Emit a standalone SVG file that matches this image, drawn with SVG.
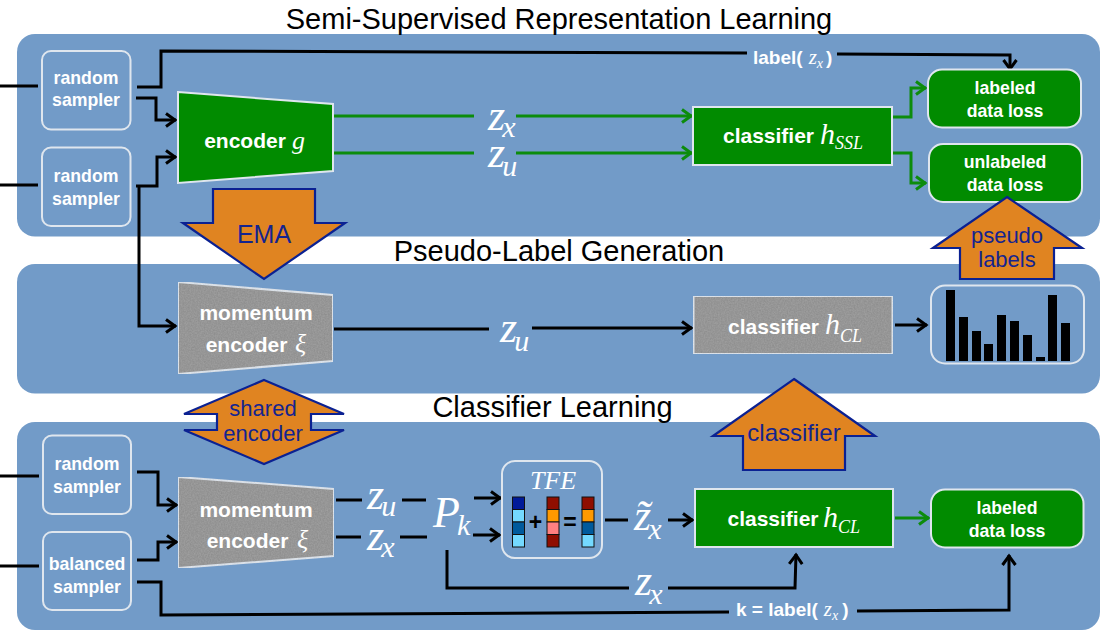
<svg xmlns="http://www.w3.org/2000/svg" width="1112" height="642" viewBox="0 0 1112 642">
<style>
.panel{fill:#729bc8}
.title{font:400 29px "Liberation Sans",Arial,sans-serif;fill:#000;text-anchor:middle}
.box{stroke:#dfe6ee;stroke-width:2}
.out{fill:none}
.green{fill:#018b00}
.gray{fill:#8e8e8e;filter:url(#grain)}
.lbl{font:700 17.700px "Liberation Sans",Arial,sans-serif;fill:#fff;text-anchor:middle}
.lbl2{font:700 21px "Liberation Sans",Arial,sans-serif;fill:#fff;text-anchor:middle}
.lbl3{font:700 19px "Liberation Sans",Arial,sans-serif;fill:#fff}
.m{font-family:"Liberation Serif","Times New Roman",serif;font-style:italic;font-weight:400;fill:#fff}
.mz{font:italic 400 44px "Liberation Serif","Times New Roman",serif;fill:#fff}
.sub{font-size:30px}
.bk{fill:none;stroke:#000;stroke-width:3;stroke-linejoin:miter}
.gr{fill:none;stroke:#0c8c0c;stroke-width:3}
.ar{marker-end:url(#ab)}
.ag{marker-end:url(#ag)}
.big{fill:#e08421;stroke:#0b2192;stroke-width:2.200}
.nv{font:400 22px "Liberation Sans",Arial,sans-serif;fill:#14248f;text-anchor:middle}
.cell{stroke:#111;stroke-width:1}
.op{font:700 23px "Liberation Sans",Arial,sans-serif;fill:#000;text-anchor:middle}
</style>
<defs>
<marker id="ab" markerUnits="userSpaceOnUse" markerWidth="16" markerHeight="18" refX="13" refY="9" orient="auto"><path d="M3 2.500L12 9L3 15.500" fill="none" stroke="#000" stroke-width="3"/></marker>
<marker id="ag" markerUnits="userSpaceOnUse" markerWidth="16" markerHeight="18" refX="13" refY="9" orient="auto"><path d="M3 2.500L12 9L3 15.500" fill="none" stroke="#0c8c0c" stroke-width="3"/></marker>
<filter id="grain" x="0" y="0" width="100%" height="100%"><feTurbulence type="fractalNoise" baseFrequency="0.7" numOctaves="2" seed="3" result="n"/><feColorMatrix in="n" type="matrix" values="0 0 0 0 0.5  0 0 0 0 0.5  0 0 0 0 0.5  0.5 0 0 0 -0.1" result="g"/><feComposite in="g" in2="SourceGraphic" operator="atop"/></filter>
</defs>
<rect width="1112" height="642" fill="#fff"/>
<g id="panels">
<rect class="panel" x="17" y="34" width="1083" height="202.500" rx="18"/>
<rect class="panel" x="17" y="264" width="1083" height="129.500" rx="18"/>
<rect class="panel" x="17" y="422" width="1083" height="208" rx="18"/>
</g>
<g id="titles">
<text class="title" x="559" y="29">Semi-Supervised Representation Learning</text>
<text class="title" x="559" y="261">Pseudo-Label Generation</text>
<text class="title" x="552.500" y="417">Classifier Learning</text>
</g>
<g id="connectors">
<path class="bk" d="M0 86H38M0 185H38M0 476H39M0 566H39"/>
<path class="bk" d="M137 87H161V51L747 53"/>
<path class="bk ar" d="M837 54L1010 55V70"/>
<path class="bk ar" d="M136 98H156V120H176"/>
<path class="bk ar" d="M136 186H157V157H176"/>
<path class="bk ar" d="M139 186V326H176"/>
<path class="gr" d="M334 116H474M334 153H474"/>
<path class="gr ag" d="M516 116H692"/>
<path class="gr ag" d="M516 153H692"/>
<path class="gr ag" d="M893 117H911V88H926"/>
<path class="gr ag" d="M893 153H911V183H926"/>
<path class="bk" d="M334 329H489"/>
<path class="bk ar" d="M532 328H692"/>
<path class="bk ar" d="M895 325H927"/>
<path class="bk ar" d="M137 472H158V505H177"/>
<path class="bk ar" d="M137 560H158V542H177"/>
<path class="bk" d="M137 582H161V615L729 612"/>
<path class="bk ar" d="M857 611L1009 610V555"/>
<path class="bk" d="M336 500H362M402 500H426M336 537H361M400 537H427"/>
<path class="bk ar" d="M474 498H501"/>
<path class="bk ar" d="M473 535H500"/>
<path class="bk" d="M605 520H628"/>
<path class="bk ar" d="M668 520H693"/>
<path class="gr ag" d="M895 518H929"/>
<path class="bk" d="M447 550V588H629"/>
<path class="bk ar" d="M668 588H795L796 554"/>
</g>
<g id="node-sampler-1"><rect class="box out" x="42" y="51" width="88.500" height="78.500" rx="9"/><text class="lbl" x="86" y="84">random</text><text class="lbl" x="86" y="106">sampler</text></g>
<g id="node-sampler-2"><rect class="box out" x="42" y="147.500" width="88.500" height="78.500" rx="9"/><text class="lbl" x="86" y="182">random</text><text class="lbl" x="86" y="205">sampler</text></g>
<g id="node-encoder-g"><path class="box green" d="M178 92L333 104V171L178 183Z"/><text class="lbl2" x="245" y="148">encoder</text><text class="m" x="292" y="149" font-size="26">g</text></g>
<g id="node-classifier-ssl"><rect class="box green" x="693" y="107" width="199" height="58"/><text class="lbl2" x="768.500" y="143">classifier</text><text class="m" x="820" y="144" font-size="30">h<tspan font-size="18" dy="5">SSL</tspan></text></g>
<g id="node-labeled-loss-1"><rect class="box green" x="928" y="69.500" width="153" height="58" rx="14"/><text class="lbl" x="1005" y="94">labeled</text><text class="lbl" x="1005" y="117">data loss</text></g>
<g id="node-unlabeled-loss"><rect class="box green" x="929" y="144" width="153" height="58" rx="14"/><text class="lbl" x="1005" y="168">unlabeled</text><text class="lbl" x="1005" y="191">data loss</text></g>
<g id="node-label-zx-top"><text class="lbl3" x="753" y="64">label(<tspan class="m" font-size="21" dx="6">z</tspan><tspan class="m" font-size="14" dy="4">x</tspan><tspan dy="-4" dx="3">)</tspan></text></g>
<g id="node-momentum-1"><path class="box gray" d="M178 282L333 295V361L178 374Z"/><text class="lbl2" x="256" y="320">momentum</text><text class="lbl2" x="246.500" y="352">encoder</text><text class="m" x="295" y="352" font-size="26">ξ</text></g>
<g id="node-classifier-cl-gray"><rect class="box gray" x="693.500" y="296" width="199" height="58"/><text class="lbl2" x="773.500" y="334">classifier</text><text class="m" x="825" y="334" font-size="30">h<tspan font-size="18" dy="8">CL</tspan></text></g>
<g id="node-histogram"><rect class="box out" x="931" y="285.500" width="153" height="78" rx="14"/><path fill="#000" d="M946 290h9v71h-9zM959 317h9v44h-9zM972 331h9v30h-9zM984 344h9v17h-9zM997 315h9v46h-9zM1010 321h9v40h-9zM1023 335h9v26h-9zM1036 357h9v4h-9zM1048 295h9v66h-9zM1061 323h9v38h-9z"/></g>
<g id="node-sampler-3"><rect class="box out" x="43" y="435.500" width="88" height="78.500" rx="9"/><text class="lbl" x="87" y="470">random</text><text class="lbl" x="87" y="493">sampler</text></g>
<g id="node-sampler-balanced"><rect class="box out" x="43" y="532" width="88" height="78" rx="9"/><text class="lbl" x="87" y="570">balanced</text><text class="lbl" x="87" y="593">sampler</text></g>
<g id="node-momentum-2"><path class="box gray" d="M178 477L334 489V556L178 568Z"/><text class="lbl2" x="256" y="517">momentum</text><text class="lbl2" x="247.500" y="548">encoder</text><text class="m" x="297" y="548" font-size="26">ξ</text></g>
<g id="node-tfe"><rect class="box out" x="502" y="461" width="100" height="97" rx="13"/><text class="m" x="553" y="489" font-size="26" text-anchor="middle">TFE</text>
<g class="cell"><rect x="512.500" y="497" width="12" height="12.500" fill="#001a99"/><rect x="512.500" y="509.500" width="12" height="12.500" fill="#74d9ff"/><rect x="512.500" y="522" width="12" height="12.500" fill="#005a9c"/><rect x="512.500" y="534.500" width="12" height="12.500" fill="#74d9ff"/>
<rect x="547" y="497" width="12" height="12.500" fill="#8f0e00"/><rect x="547" y="509.500" width="12" height="12.500" fill="#ff9900"/><rect x="547" y="522" width="12" height="12.500" fill="#ff8080"/><rect x="547" y="534.500" width="12" height="12.500" fill="#8f0e00"/>
<rect x="582" y="497" width="12" height="12.500" fill="#8f0e00"/><rect x="582" y="509.500" width="12" height="12.500" fill="#ff9900"/><rect x="582" y="522" width="12" height="12.500" fill="#005a9c"/><rect x="582" y="534.500" width="12" height="12.500" fill="#74d9ff"/></g>
<text class="op" x="535.500" y="530">+</text><text class="op" x="570" y="530">=</text></g>
<g id="node-classifier-cl-green"><rect class="box green" x="695" y="489" width="198" height="58"/><text class="lbl2" x="773" y="526">classifier</text><text class="m" x="823" y="527" font-size="30">h<tspan font-size="18" dy="6">CL</tspan></text></g>
<g id="node-labeled-loss-2"><rect class="box green" x="931" y="489.500" width="152.500" height="58" rx="14"/><text class="lbl" x="1007" y="514">labeled</text><text class="lbl" x="1007" y="537">data loss</text></g>
<g id="node-label-k"><text class="lbl3" x="736" y="616">k = label(<tspan class="m" font-size="21" dx="6">z</tspan><tspan class="m" font-size="14" dy="4">x</tspan><tspan dy="-4" dx="4">)</tspan></text></g>
<g id="math-labels">
<text class="mz" x="488" y="130">z<tspan class="sub" dy="7" dx="-3">x</tspan></text>
<text class="mz" x="488" y="167">z<tspan class="sub" dy="9" dx="-3">u</tspan></text>
<text class="mz" x="500" y="342">z<tspan class="sub" dy="9" dx="-3">u</tspan></text>
<text class="mz" x="367" y="509">z<tspan class="sub" dy="7" dx="-3">u</tspan></text>
<text class="mz" x="367" y="550">z<tspan class="sub" dy="7" dx="-3">x</tspan></text>
<text class="m" x="433" y="527" font-size="44">P<tspan class="sub" dy="8" dx="-3">k</tspan></text>
<text class="mz" x="634" y="530">z&#771;<tspan class="sub" dy="9" dx="-3">x</tspan></text>
<text class="mz" x="635" y="595">z<tspan class="sub" dy="9" dx="-3">x</tspan></text>
</g>
<g id="node-ema"><path class="big" d="M213 189H315V223H345L264 279L183 223H213Z"/><text class="nv" x="264" y="243" style="font-size:25px">EMA</text></g>
<g id="node-shared-encoder"><path class="big" d="M264 380L344 414H311V430H344L264 464L184 430H217V414H184Z"/><text class="nv" x="263" y="416">shared</text><text class="nv" x="263" y="441">encoder</text></g>
<g id="node-classifier-arrow"><path class="big" d="M794 379L875 436H845V470H743V436H713Z"/><text class="nv" x="794" y="441" style="font-size:24px">classifier</text></g>
<g id="node-pseudo-labels"><path class="big" d="M1007 197L1082 248H1054V279H960V248H933Z"/><text class="nv" x="1007" y="243">pseudo</text><text class="nv" x="1007" y="267">labels</text></g>
</svg>
